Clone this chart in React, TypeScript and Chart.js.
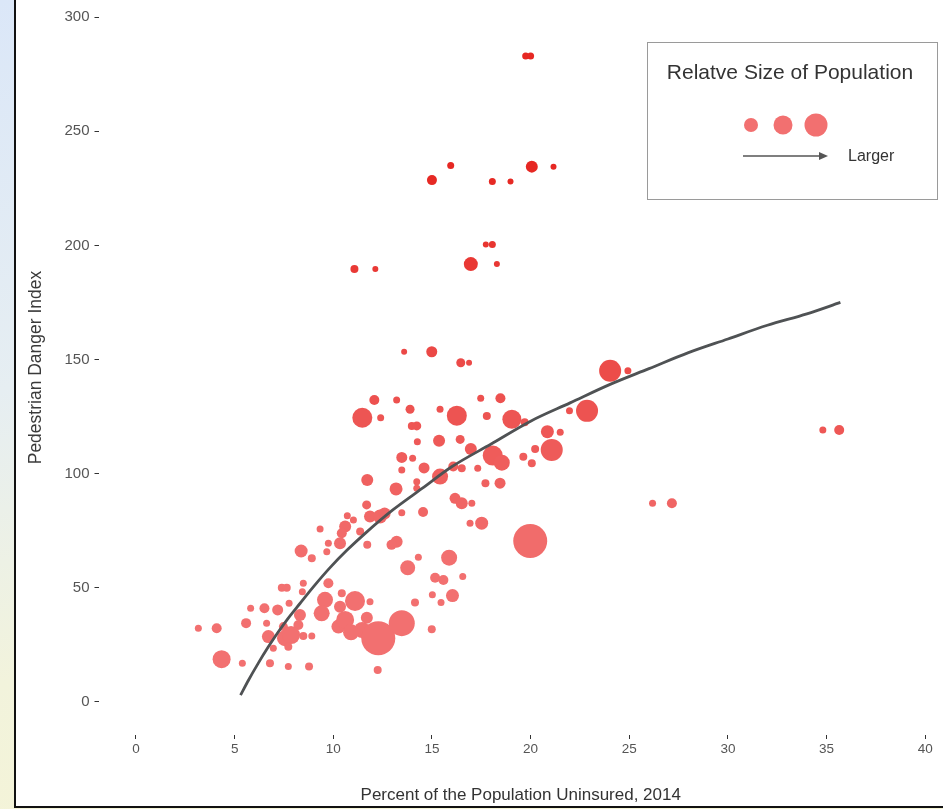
import React, { useEffect, useRef } from "react";
import { Chart, registerables } from "chart.js";

Chart.register(...registerables);

// Percent uninsured (x), Pedestrian Danger Index (y), relative population (bubble radius)
const uninsured: number[] = [
  19.75, 20.0, 15.95, 15.0, 18.06, 18.98, 20.06, 21.16, 17.73, 18.06,
  16.97, 18.29, 11.07, 12.13, 13.59, 14.99, 16.46, 16.88, 17.47, 18.47,
  15.41, 16.26, 17.78, 19.05, 19.7, 22.86, 21.97, 20.85, 21.07, 21.5,
  20.23, 15.36, 16.43, 16.97, 18.08, 18.54, 19.63, 20.06, 14.6, 15.41,
  16.08, 16.51, 17.32, 17.71, 18.45, 16.17, 16.51, 17.02, 14.55, 16.93,
  17.52, 19.98, 12.08, 13.21, 11.47, 12.4, 13.89, 13.98, 14.23, 14.26,
  13.47, 14.02, 13.47, 11.72, 13.18, 14.23, 14.23, 11.69, 13.47, 11.86,
  12.37, 12.6, 10.71, 11.02, 9.33, 10.6, 10.43, 10.34, 9.75, 9.67,
  8.37, 8.91, 8.48, 7.39, 7.64, 8.43, 9.75, 9.58, 9.41, 10.43,
  10.34, 10.26, 5.81, 6.51, 7.18, 7.76, 8.31, 6.62, 5.58, 4.09,
  3.16, 8.23, 7.47, 6.71, 7.55, 7.86, 8.48, 8.91, 6.96, 7.72,
  4.34, 5.39, 6.79, 7.72, 8.77, 11.36, 11.72, 13.21, 12.95, 14.31,
  13.77, 15.87, 15.16, 15.58, 16.56, 15.02, 15.46, 16.04, 14.14, 14.99,
  12.25, 11.1, 11.86, 10.6, 11.46, 12.28, 13.47, 11.7, 24.03, 24.93,
  34.81, 35.64, 26.18, 27.16, 10.9,
];
const dangerIndex: number[] = [
  283, 283, 235, 228.6, 228, 228, 234.5, 234.5, 200.4, 200.4,
  191.8, 191.8, 189.6, 189.6, 153.4, 153.4, 148.6, 148.6, 133, 133,
  128.2, 125.4, 125.3, 123.8, 122.5, 127.5, 127.5, 118.4, 110.4, 118.1,
  110.8, 114.4, 115.0, 110.8, 107.9, 104.8, 107.4, 104.5, 102.5, 98.7,
  103.1, 102.4, 102.4, 95.8, 95.8, 89.2, 87.0, 87.0, 83.2, 78.3,
  78.3, 70.5, 132.3, 132.3, 124.5, 124.5, 128.2, 120.9, 120.9, 114.0,
  107.1, 106.7, 101.6, 97.2, 93.3, 96.5, 93.6, 86.3, 82.9, 81.2,
  81.2, 82.5, 81.6, 79.7, 75.8, 76.8, 73.9, 69.5, 69.5, 65.8,
  66.1, 62.9, 52.0, 50.0, 50.0, 48.3, 52.0, 44.7, 38.8, 47.6,
  41.7, 33.0, 41.0, 41.0, 40.3, 43.2, 38.1, 34.5, 34.5, 32.3,
  32.3, 33.7, 33.0, 28.6, 27.9, 29.3, 28.9, 28.9, 23.5, 24.2,
  18.7, 16.9, 16.9, 15.5, 15.5, 74.6, 68.8, 70.2, 68.8, 63.4,
  58.8, 63.2, 54.4, 53.4, 54.9, 46.9, 43.5, 46.6, 43.5, 31.8,
  14.0, 44.2, 43.9, 35.9, 31.5, 27.9, 34.5, 36.9, 145.1, 145.1,
  119.1, 119.1, 87.0, 87.0, 30.5,
];
const popSize: number[] = [
  3.5, 3.5, 3.5, 5, 3.5, 3, 6, 3, 3, 3.5,
  7, 3, 4, 3, 3, 5.5, 4.5, 3, 3.5, 5,
  3.5, 10, 4, 9.5, 4, 11, 3.5, 6.5, 11, 3.5,
  4, 6, 4.5, 6, 10, 8, 4, 4, 5.5, 8,
  5, 4, 3.5, 4, 5.5, 5.5, 6, 3.5, 5, 3.5,
  6.5, 17, 5, 3.5, 10, 3.5, 4.5, 4, 4.5, 3.5,
  5.5, 3.5, 3.5, 6, 6.5, 3.5, 3.5, 4.5, 3.5, 6,
  7, 6, 3.5, 3.5, 3.5, 6, 5, 6, 3.5, 3.5,
  6.5, 4, 3.5, 4, 4, 3.5, 5, 8, 8, 4,
  6, 7, 3.5, 5, 5.5, 3.5, 6, 3.5, 5, 5,
  3.5, 5, 4.5, 6.5, 8, 9, 4, 3.5, 3.5, 4,
  9, 3.5, 4, 3.5, 4, 4, 4, 6, 5, 3.5,
  7.5, 8, 5, 5, 3.5, 3.5, 3.5, 6.5, 4, 4,
  4, 10, 3.5, 9, 8, 17, 13, 6, 11, 3.5,
  3.5, 5, 3.5, 5, 8,
];

// Fitted trend curve
const fitX: number[] = [5.3, 5.7, 6.2, 6.7, 7.2, 7.7, 8.3, 9, 9.8, 10.7, 11.7, 13, 14.5, 16, 18, 20, 22, 24, 26, 28, 30, 32, 34, 35.7];
const fitY: number[] = [3, 9.5, 17, 24, 30.5, 36.5, 43, 50.5, 58.5, 66.5, 74.5, 84, 93.5, 103, 113, 123, 131, 139, 146, 153, 159, 165, 170, 175];

const xTitle = "Percent of the Population Uninsured, 2014";
const yTitle = "Pedestrian Danger Index";
const legendTitle = "Relatve Size of Population";
const legendSizes: number[] = [7, 9.5, 11.5];
const legendArrowLabel = "Larger";

const FONT = "'Liberation Sans', Arial, Helvetica, sans-serif";

function bubbleColor(y: number): string {
  const t = Math.max(0, Math.min(1, (y - 60) / 170));
  const r = Math.round(242 - 12 * t);
  const g = Math.round(112 - 72 * t);
  const b = Math.round(112 - 77 * t);
  return `rgb(${r},${g},${b})`;
}

const legendPlugin = {
  id: "sizeLegend",
  afterDraw(chart: any) {
    const ctx = chart.ctx;
    const right = chart.chartArea.right;
    const bx = right - 296;
    const by = 42;
    const bw = 290;
    const bh = 157;
    ctx.save();
    ctx.strokeStyle = "#9a9a9a";
    ctx.lineWidth = 1;
    ctx.strokeRect(bx + 0.5, by + 0.5, bw, bh);
    ctx.fillStyle = "#333";
    ctx.font = `21px ${FONT}`;
    ctx.textAlign = "center";
    ctx.textBaseline = "middle";
    ctx.fillText(legendTitle, bx + bw / 2 - 2, by + 31);
    const cx = [bx + 104, bx + 136, bx + 169];
    legendSizes.forEach((r, i) => {
      ctx.beginPath();
      ctx.fillStyle = bubbleColor(60);
      ctx.arc(cx[i], by + 83, r, 0, Math.PI * 2);
      ctx.fill();
    });
    ctx.strokeStyle = "#555";
    ctx.lineWidth = 1.5;
    ctx.beginPath();
    ctx.moveTo(bx + 96, by + 114);
    ctx.lineTo(bx + 174, by + 114);
    ctx.stroke();
    ctx.fillStyle = "#555";
    ctx.beginPath();
    ctx.moveTo(bx + 181, by + 114);
    ctx.lineTo(bx + 172, by + 110);
    ctx.lineTo(bx + 172, by + 118);
    ctx.closePath();
    ctx.fill();
    ctx.fillStyle = "#333";
    ctx.font = `16px ${FONT}`;
    ctx.textAlign = "left";
    ctx.fillText(legendArrowLabel, bx + 201, by + 115);
    ctx.restore();
  },
};

export default function App() {
  const ref = useRef<HTMLCanvasElement | null>(null);

  useEffect(() => {
    if (!ref.current) return;
    const bubbles = uninsured.map((x, i) => ({ x, y: dangerIndex[i], r: popSize[i] }));
    const fit = fitX.map((x, i) => ({ x, y: fitY[i] }));
    const chart = new Chart(ref.current, {
      type: "bubble",
      data: {
        datasets: [
          {
            type: "line",
            data: fit,
            borderColor: "#4f5254",
            borderWidth: 2.8,
            pointRadius: 0,
            cubicInterpolationMode: "monotone",
            fill: false,
            order: 0,
          } as any,
          {
            type: "bubble",
            data: bubbles,
            backgroundColor: (c: any) => bubbleColor(c.raw ? c.raw.y : 60),
            borderWidth: 0,
            hoverRadius: 0,
            order: 1,
          } as any,
        ],
      },
      options: {
        responsive: false,
        animation: false,
        layout: { padding: 0, autoPadding: false },
        plugins: { legend: { display: false }, tooltip: { enabled: false } },
        scales: {
          x: {
            type: "linear",
            min: -1.9,
            max: 40.9,
            border: { display: false },
            grid: {
              drawOnChartArea: false,
              drawTicks: true,
              tickLength: 4,
              color: "#333",
            },
            ticks: {
              stepSize: 5,
              includeBounds: false,
              padding: 2,
              color: "#555",
              font: { family: FONT, size: 13.5 },
            },
            title: {
              display: true,
              text: xTitle,
              color: "#333",
              font: { family: FONT, size: 17 },
              padding: { top: 0, bottom: 3 },
            },
            afterFit: (s: any) => {
              s.height = 74;
              s.paddingLeft = 0;
              s.paddingRight = 0;
            },
          },
          y: {
            type: "linear",
            min: -14.5,
            max: 307.5,
            border: { display: false },
            grid: {
              drawOnChartArea: false,
              drawTicks: true,
              tickLength: 4,
              color: "#333",
            },
            ticks: {
              stepSize: 50,
              includeBounds: false,
              padding: 5,
              color: "#555",
              font: { family: FONT, size: 15 },
            },
            title: {
              display: true,
              text: yTitle,
              color: "#3a3a3a",
              font: { family: FONT, size: 17.5 },
              padding: { top: 26, bottom: 0 },
            },
            afterFit: (s: any) => {
              s.width = 98.5;
              s.paddingTop = 0;
              s.paddingBottom = 0;
            },
          },
        },
      },
      plugins: [legendPlugin],
    } as any);
    return () => chart.destroy();
  }, []);

  return (
    <div
      style={{
        position: "fixed",
        left: 0,
        top: 0,
        width: 943,
        height: 809,
        overflow: "hidden",
        background: "linear-gradient(170deg, #dbe7f8 0%, #e6eef2 40%, #f2f3dc 70%, #f5f4d4 100%)",
      }}
    >
      <div
        style={{
          position: "absolute",
          left: 14,
          top: -2,
          width: 940,
          height: 810,
          background: "#fff",
          borderLeft: "2px solid #111",
          borderBottom: "2px solid #111",
          boxSizing: "border-box",
        }}
      />
      <canvas ref={ref} width={943} height={809} style={{ position: "absolute", left: 0, top: 0 }} />
    </div>
  );
}
